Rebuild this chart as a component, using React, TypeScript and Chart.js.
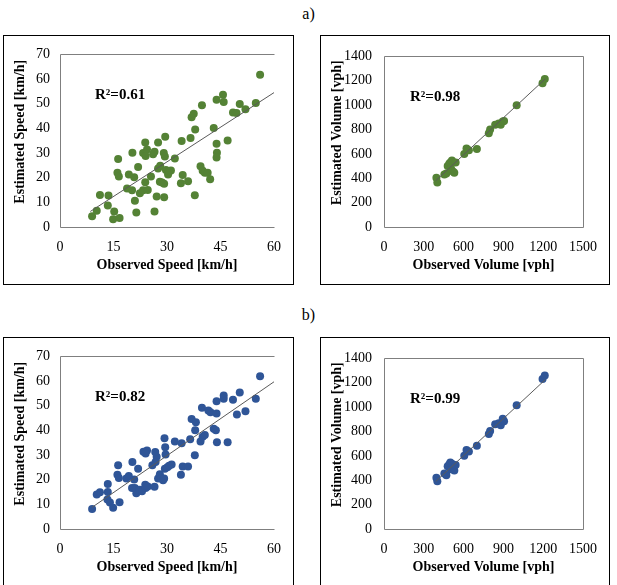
import React, { useEffect, useRef } from "react";
import { Chart, registerables } from "chart.js";

Chart.register(...registerables);

const FONT = "'Liberation Serif', 'Times New Roman', serif";

// ---- a) speed: observed vs. estimated (km/h)
const speedObsA = [
  9.0, 10.3, 11.2, 13.4, 13.6, 14.9, 15.2, 16.7, 16.3, 16.1,
  16.5, 18.8, 19.3, 20.3, 20.8, 21.0, 21.4, 21.9, 20.2, 22.4,
  23.3, 23.9, 23.9, 23.3, 24.4, 24.0, 24.6, 25.5, 26.5, 27.1,
  26.1, 26.5, 27.5, 27.5, 28.1, 28.0, 28.6, 29.2, 29.1, 29.4,
  29.2, 29.5, 29.7, 30.3, 30.6, 31.1, 32.2, 33.9, 34.4, 34.1,
  35.9, 36.6, 36.9, 37.5, 37.9, 37.8, 39.8, 39.4, 40.0, 40.6,
  41.4, 42.1, 43.1, 43.9, 45.7, 45.9, 43.9, 44.0, 43.9, 47.0,
  48.5, 49.5, 50.4, 52.0, 54.9, 56.1,
];
const speedEstA = [
  4.4, 6.6, 13.0, 8.7, 12.8, 3.1, 6.3, 3.7, 27.6, 22.0,
  20.5, 15.6, 21.3, 30.1, 20.2, 10.6, 5.9, 24.3, 14.9, 13.7,
  14.9, 18.1, 34.3, 30.0, 31.4, 28.8, 15.0, 20.5, 6.3, 12.4,
  29.5, 30.5, 34.3, 23.7, 24.8, 18.4, 18.0, 17.5, 30.0, 28.6,
  12.1, 36.6, 23.1, 21.3, 22.6, 22.9, 27.8, 17.7, 21.1, 34.9,
  18.6, 36.1, 44.5, 45.9, 39.5, 12.9, 49.4, 24.6, 22.8, 22.0,
  22.0, 19.4, 40.2, 51.6, 53.6, 50.7, 33.8, 30.1, 28.2, 35.1,
  46.4, 46.2, 49.9, 47.8, 50.3, 61.7,
];
const speedTrendXA = [8.5, 60];
const speedTrendYA = [6.3, 54.5];

// ---- b) speed: observed vs. estimated (km/h)
const speedObsB = [
  9.0, 10.3, 11.2, 13.4, 13.4, 13.3, 14.0, 14.9, 16.7, 16.3,
  16.1, 16.5, 18.6, 19.3, 20.3, 20.8, 21.0, 21.4, 21.9, 20.2,
  22.4, 23.0, 23.9, 23.4, 24.4, 24.0, 24.0, 24.6, 26.5, 25.9,
  26.8, 27.1, 26.7, 27.5, 28.0, 28.4, 28.9, 29.6, 29.5, 29.3,
  29.2, 29.4, 30.1, 30.6, 31.3, 32.2, 33.9, 34.4, 34.1, 35.9,
  36.5, 36.9, 38.1, 37.9, 37.8, 39.8, 39.4, 40.0, 40.6, 41.6,
  42.2, 43.1, 43.7, 43.9, 44.0, 43.9, 45.9, 45.9, 47.0, 48.5,
  49.6, 50.4, 52.0, 54.9, 56.1,
];
const speedEstB = [
  8.1, 14.0, 14.9, 18.3, 15.0, 12.0, 10.7, 8.6, 10.8, 25.9,
  22.0, 20.7, 20.5, 21.5, 27.2, 20.1, 16.6, 14.5, 24.4, 16.6,
  15.9, 15.3, 17.9, 31.3, 31.8, 30.6, 16.6, 17.2, 17.1, 25.9,
  27.2, 29.3, 31.2, 20.5, 22.2, 20.5, 19.8, 30.2, 33.2, 36.8,
  20.5, 24.4, 25.0, 25.7, 26.2, 35.5, 22.0, 25.3, 34.8, 25.3,
  36.4, 44.6, 43.3, 40.0, 29.9, 49.2, 35.5, 37.4, 38.1, 48.1,
  47.4, 40.7, 40.0, 46.8, 35.2, 51.8, 54.1, 52.8, 35.2, 52.4,
  46.4, 55.4, 47.8, 52.8, 61.9,
];
const speedTrendXB = [9, 60];
const speedTrendYB = [8.8, 59.7];

// ---- volume: observed vs. estimated (vph), models a) and b)
const volObs = [
  395, 402, 455, 470, 480, 492, 500, 505, 512, 520, 530, 540, 605,
  622, 640, 700, 790, 800, 838, 865, 880, 895, 905, 1000, 1195, 1212,
];
const volEstA = [
  405, 365, 430, 440, 500, 520, 530, 480, 545, 455, 445, 530, 600,
  645, 630, 640, 770, 800, 840, 850, 840, 865, 870, 1000, 1180, 1215,
];
const volEstB = [
  420, 392, 455, 442, 515, 530, 545, 490, 535, 505, 480, 525, 602,
  648, 635, 683, 780, 805, 860, 868, 852, 905, 885, 1015, 1230, 1260,
];
const volTrendX = [390, 1215];
const volTrendYA = [380, 1215];
const volTrendYB = [390, 1225];

// axis ranges / tick steps: [min, max, step]
const speedAxisX = [0, 60, 15];
const speedAxisY = [0, 70, 10];
const volAxisX = [0, 1500, 300];
const volAxisY = [0, 1400, 200];

const GREEN = "#548235";
const BLUE = "#2f5597";

// Plot-area frame plus the axis titles and the R² note
const panelDecor = {
  id: "panelDecor",
  beforeDatasetsDraw(chart: any, _args: any, opts: any) {
    const { ctx, chartArea: a } = chart;
    const l = Math.round(a.left) + 0.5;
    const r = Math.round(a.right) + 0.5;
    const t = Math.round(a.top) + 0.5;
    const b = Math.round(a.bottom) + 0.5;
    ctx.save();
    ctx.strokeStyle = "#7f7f7f";
    ctx.lineWidth = 1;
    ctx.beginPath();
    ctx.moveTo(r, t);
    ctx.lineTo(l, t);
    ctx.lineTo(l, b);
    ctx.lineTo(r, b);
    if (opts.rightEdge) ctx.lineTo(r, t);
    ctx.stroke();
    ctx.restore();
  },
  afterDraw(chart: any, _args: any, opts: any) {
    const { ctx, chartArea: a } = chart;
    ctx.save();
    ctx.fillStyle = "#000";
    ctx.font = `bold 14px ${FONT}`;
    ctx.textAlign = "center";
    ctx.textBaseline = "middle";
    ctx.fillText(opts.xTitle, (a.left + a.right) / 2, a.bottom + 38);
    ctx.translate(16, (a.top + a.bottom) / 2 - 9);
    ctx.rotate(-Math.PI / 2);
    ctx.fillText(opts.yTitle, 0, 0);
    ctx.restore();

    ctx.save();
    ctx.fillStyle = "#000";
    ctx.font = `bold 15px ${FONT}`;
    ctx.textAlign = "left";
    ctx.textBaseline = "middle";
    ctx.fillText(opts.r2, a.left + opts.r2Dx, a.top + 41);
    ctx.restore();
  },
};

type PanelProps = {
  left: number;
  top: number;
  width: number;
  height: number;
  obs: number[];
  est: number[];
  trendX: number[];
  trendY: number[];
  color: string;
  r2: string;
  axisX: number[];
  axisY: number[];
  xTitle: string;
  yTitle: string;
  yAxisWidth: number;
  yTickPad: number;
  rightPad: number;
  rightEdge: boolean;
  r2Dx: number;
};

function Panel(p: PanelProps) {
  const ref = useRef<HTMLCanvasElement | null>(null);
  const cw = p.width - 2;
  const ch = p.height - 2;

  useEffect(() => {
    if (!ref.current) return;
    const plotTop = 13;
    const plotBottom = 191;
    const tickFont = { family: FONT, size: 14 };
    const chart = new Chart(ref.current, {
      type: "scatter",
      data: {
        datasets: [
          {
            type: "line",
            data: p.trendX.map((x, i) => ({ x, y: p.trendY[i] })),
            borderColor: "#5a5a5a",
            borderWidth: 1,
            pointRadius: 0,
            fill: false,
            order: 0,
          },
          {
            data: p.obs.map((x, i) => ({ x, y: p.est[i] })),
            backgroundColor: p.color,
            borderWidth: 0,
            pointRadius: 4,
            order: 1,
          },
        ],
      },
      options: {
        responsive: false,
        animation: false,
        devicePixelRatio: 1,
        layout: { padding: { top: plotTop, right: p.rightPad, left: 0, bottom: 0 } },
        plugins: {
          legend: { display: false },
          tooltip: { enabled: false },
          panelDecor: {
            xTitle: p.xTitle,
            yTitle: p.yTitle,
            r2: p.r2,
            r2Dx: p.r2Dx,
            rightEdge: p.rightEdge,
          },
        } as any,
        scales: {
          x: {
            type: "linear",
            min: p.axisX[0],
            max: p.axisX[1],
            afterFit: (s: any) => {
              s.height = ch - plotBottom;
            },
            ticks: {
              stepSize: p.axisX[2],
              font: tickFont,
              color: "#000",
              padding: 12,
              maxRotation: 0,
              callback: (v: any) => String(v),
            },
            grid: { display: false, drawTicks: false },
            border: { display: false },
          },
          y: {
            type: "linear",
            min: p.axisY[0],
            max: p.axisY[1],
            afterFit: (s: any) => {
              s.width = p.yAxisWidth;
            },
            ticks: {
              stepSize: p.axisY[2],
              font: tickFont,
              color: "#000",
              padding: p.yTickPad,
              callback: (v: any) => String(v),
            },
            grid: { display: false, drawTicks: false },
            border: { display: false },
          },
        },
      },
      plugins: [panelDecor],
    } as any);
    return () => chart.destroy();
  }, []);

  return (
    <div
      style={{
        position: "absolute",
        left: p.left,
        top: p.top,
        width: p.width,
        height: p.height,
        border: "1px solid #000",
        boxSizing: "border-box",
        background: "#fff",
        overflow: "hidden",
      }}
    >
      <canvas ref={ref} width={cw} height={ch} style={{ display: "block", width: cw, height: ch }} />
    </div>
  );
}

const labelStyle: React.CSSProperties = {
  position: "absolute",
  left: 0,
  width: 617,
  textAlign: "center",
  fontFamily: FONT,
  fontSize: 16,
  lineHeight: "18px",
  color: "#000",
};

export default function App() {
  const speedX = "Observed Speed [km/h]";
  const speedY = "Estimated Speed [km/h]";
  const volX = "Observed Volume [vph]";
  const volY = "Estimated Volume [vph]";
  return (
    <div
      style={{
        position: "absolute",
        left: 0,
        top: 0,
        width: 617,
        height: 585,
        overflow: "hidden",
        background: "#fff",
      }}
    >
      <div style={{ ...labelStyle, top: 5 }}>a)</div>
      <Panel
        left={3} top={35} width={291} height={250}
        obs={speedObsA} est={speedEstA} trendX={speedTrendXA} trendY={speedTrendYA}
        color={GREEN} r2="R²=0.61" axisX={speedAxisX} axisY={speedAxisY}
        xTitle={speedX} yTitle={speedY} yAxisWidth={56} yTickPad={10} rightPad={15}
        rightEdge={false} r2Dx={35}
      />
      <Panel
        left={320} top={35} width={290} height={250}
        obs={volObs} est={volEstA} trendX={volTrendX} trendY={volTrendYA}
        color={GREEN} r2="R²=0.98" axisX={volAxisX} axisY={volAxisY}
        xTitle={volX} yTitle={volY} yAxisWidth={63} yTickPad={12} rightPad={22}
        rightEdge={true} r2Dx={26}
      />
      <div style={{ ...labelStyle, top: 306 }}>b)</div>
      <Panel
        left={3} top={337} width={291} height={262}
        obs={speedObsB} est={speedEstB} trendX={speedTrendXB} trendY={speedTrendYB}
        color={BLUE} r2="R²=0.82" axisX={speedAxisX} axisY={speedAxisY}
        xTitle={speedX} yTitle={speedY} yAxisWidth={56} yTickPad={10} rightPad={15}
        rightEdge={false} r2Dx={35}
      />
      <Panel
        left={320} top={337} width={290} height={262}
        obs={volObs} est={volEstB} trendX={volTrendX} trendY={volTrendYB}
        color={BLUE} r2="R²=0.99" axisX={volAxisX} axisY={volAxisY}
        xTitle={volX} yTitle={volY} yAxisWidth={63} yTickPad={12} rightPad={22}
        rightEdge={true} r2Dx={26}
      />
    </div>
  );
}
